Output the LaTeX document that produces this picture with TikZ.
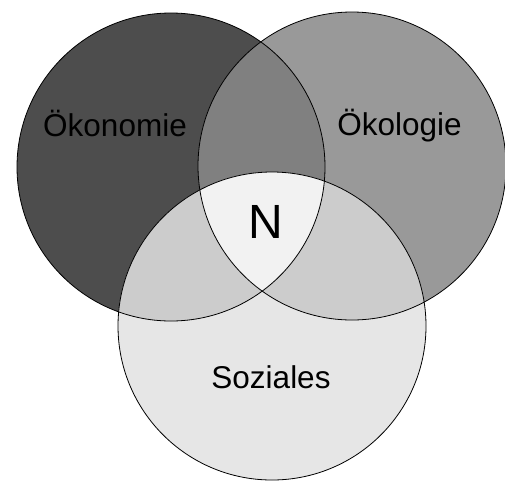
\documentclass[tikz,border=0pt]{standalone}
\usepackage{fontspec}
\setmainfont{Liberation Sans}
\definecolor{cOek}{HTML}{4D4D4D}
\definecolor{cOeko}{HTML}{999999}
\definecolor{cSoz}{HTML}{E6E6E6}
\definecolor{cLR}{HTML}{808080}
\definecolor{cSB}{HTML}{CCCCCC}
\definecolor{cN}{HTML}{F2F2F2}
\begin{document}
\begin{tikzpicture}[x=1pt,y=-1pt,
  lbl/.style={anchor=base,inner sep=0pt,font=\fontsize{31.5}{36}\selectfont},
  biglbl/.style={lbl,font=\fontsize{48}{54}\selectfont},
  ring/.style={draw=black,line width=0.8pt}]
\useasboundingbox (0,0) rectangle (505,480);
\coordinate (cL) at (171,167);
\coordinate (cR) at (352,166);
\coordinate (cB) at (272,326);
\def\rr{154pt}
% base fills
\fill[cOek] (cL) circle[radius=\rr];
\fill[cOeko] (cR) circle[radius=\rr];
\fill[cSoz] (cB) circle[radius=\rr];
% pairwise overlaps
\begin{scope}
  \clip (cL) circle[radius=\rr];
  \fill[cLR] (cR) circle[radius=\rr];
  \fill[cSB] (cB) circle[radius=\rr];
\end{scope}
\begin{scope}
  \clip (cR) circle[radius=\rr];
  \fill[cSB] (cB) circle[radius=\rr];
\end{scope}
% triple overlap
\begin{scope}
  \clip (cL) circle[radius=\rr];
  \clip (cR) circle[radius=\rr];
  \fill[cN] (cB) circle[radius=\rr];
\end{scope}
% outlines
\draw[ring] (cL) circle[radius=\rr];
\draw[ring] (cR) circle[radius=\rr];
\draw[ring] (cB) circle[radius=\rr];
% labels
\node[lbl] (oekonomie) at (115,136.5) {Ökonomie};
\node[lbl] (oekologie) at (399.5,135.5) {Ökologie};
\node[biglbl] (n) at (265.5,238) {N};
\node[lbl] (soziales) at (271,388) {Soziales};
\end{tikzpicture}
\end{document}
